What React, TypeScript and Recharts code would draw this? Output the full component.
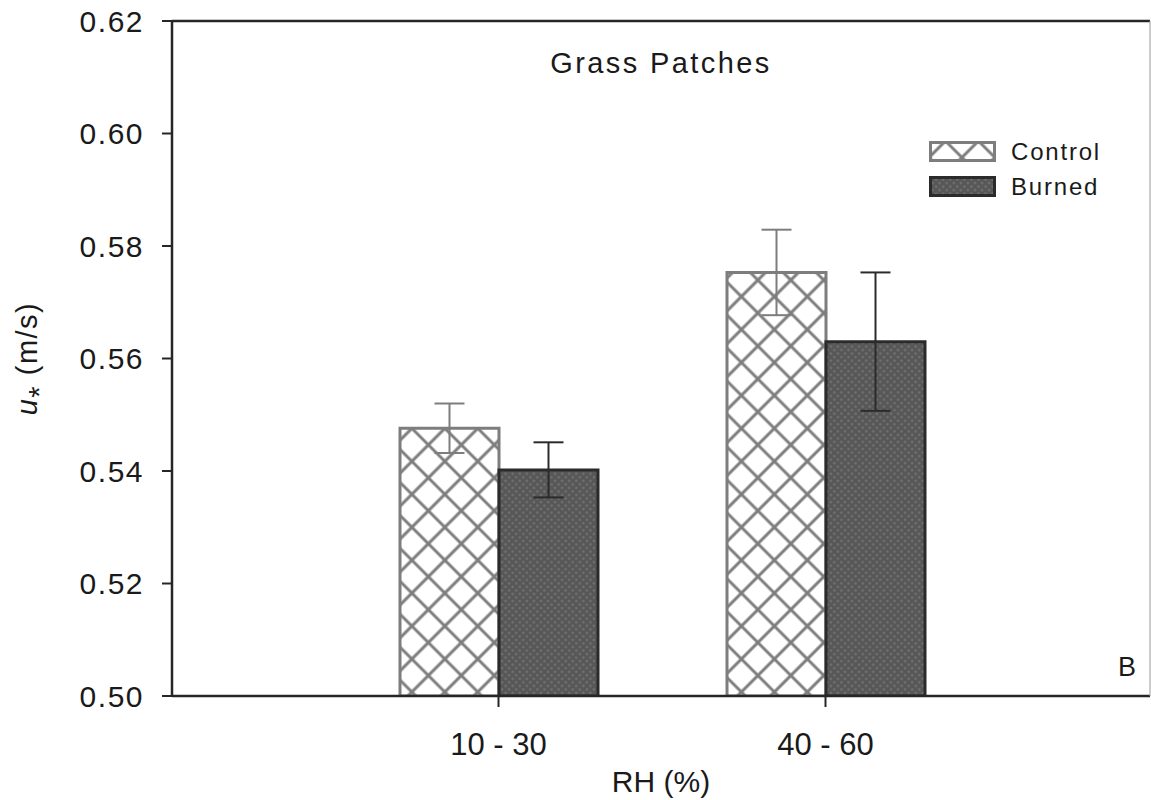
import React from 'react';
import { BarChart, Bar, XAxis, YAxis, ErrorBar, Legend } from 'recharts';

// friction velocity u* by relative humidity class, grass patches
const rhClasses = ['10 - 30', '40 - 60'];
const controlMeans = [0.5476, 0.5753];
const controlErrors = [0.0044, 0.0076];
const burnedMeans = [0.5402, 0.563];
const burnedErrors = [0.0049, 0.0123];
const yTicks = [0.5, 0.52, 0.54, 0.56, 0.58, 0.6, 0.62];

const data = rhClasses.map((rh, i) => ({
  rh,
  control: controlMeans[i],
  controlErr: controlErrors[i],
  burned: burnedMeans[i],
  burnedErr: burnedErrors[i],
}));

const FONT = '"Liberation Sans", Arial, Helvetica, sans-serif';
const INK = '#1a1a1a';
const AXIS = '#262626';
const CONTROL_LINE = '#7d7d7d';
const BURNED_LINE = '#2b2b2b';

const XTitle = (props: any) => {
  const vb = props.viewBox || { x: 172, y: 696, width: 978 };
  return (
    <text x={vb.x + vb.width / 2} y={792} textAnchor="middle" fontFamily={FONT} fontSize={30} fill={INK}>
      RH (%)
    </text>
  );
};

const YTitle = (props: any) => {
  const vb = props.viewBox || { y: 21, height: 675 };
  const cy = vb.y + vb.height / 2;
  const bx = 37;
  return (
    <text x={bx} y={cy} transform={`rotate(-90, ${bx}, ${cy})`} textAnchor="middle" fontFamily={FONT} fontSize={29} letterSpacing={1.5} fill={INK}>
      <tspan fontStyle="italic">u</tspan>
      <tspan dy="0.4em">*</tspan>
      <tspan dy="-0.4em"> (m/s)</tspan>
    </text>
  );
};

const PlotTitle = (props: any) => {
  const vb = props.viewBox || { x: 172, width: 978 };
  return (
    <text x={vb.x + vb.width / 2} y={73} textAnchor="middle" fontFamily={FONT} fontSize={29} letterSpacing={2.4} fill={INK}>
      Grass Patches
    </text>
  );
};

const PanelTag = (props: any) => {
  const vb = props.viewBox || { x: 1150, y: 21, height: 675 };
  return (
    <text x={vb.x - 32} y={vb.y + vb.height - 20} fontFamily={FONT} fontSize={27} fill={INK}>
      B
    </text>
  );
};

const LegendBox = () => {
  const rows = [
    { label: 'Control', fill: 'url(#hatchControl)', stroke: CONTROL_LINE },
    { label: 'Burned', fill: 'url(#dotsBurned)', stroke: BURNED_LINE },
  ];
  return (
    <div style={{ fontFamily: FONT, fontSize: 24, letterSpacing: 1.8, color: INK }}>
      {rows.map((r) => (
        <div key={r.label} style={{ display: 'flex', alignItems: 'center', height: 35 }}>
          <svg width={68} height={21} style={{ marginRight: 14 }}>
            <rect x={1.5} y={1.5} width={64} height={18} fill={r.fill} stroke={r.stroke} strokeWidth={3} />
          </svg>
          <span>{r.label}</span>
        </div>
      ))}
    </div>
  );
};

export default function App() {
  return (
    <div style={{ position: 'relative', width: 1151, height: 800, background: '#fff' }}>
      <style>{'body{margin:0}'}</style>
      <svg width={0} height={0} style={{ position: 'absolute' }}>
        <defs>
          <pattern id="hatchControl" patternUnits="userSpaceOnUse" width={23.3} height={23.3} patternTransform="rotate(45)">
            <rect width={23.3} height={23.3} fill="#fff" />
            <path d="M11.65 0V23.3M0 11.65H23.3" stroke={CONTROL_LINE} strokeWidth={3} />
          </pattern>
          <pattern id="dotsBurned" patternUnits="userSpaceOnUse" width={5} height={5} patternTransform="rotate(45)">
            <rect width={5} height={5} fill="#575757" />
            <circle cx={2.5} cy={2.5} r={1.2} fill="#747474" />
          </pattern>
        </defs>
      </svg>
      <BarChart
        width={1151}
        height={800}
        data={data}
        margin={{ top: 20, right: 0, left: 72, bottom: 24 }}
        barGap={0}
      >
        <XAxis
          dataKey="rh"
          height={80}
          padding={{ left: 163, right: 161 }}
          axisLine={{ stroke: AXIS, strokeWidth: 2.5 }}
          tickLine={{ stroke: AXIS, strokeWidth: 2 }}
          tickSize={11}
          tickMargin={26}
          tick={{ fontFamily: FONT, fontSize: 31, fill: INK }}
          label={<XTitle />}
        />
        <XAxis
          xAxisId="top"
          dataKey="rh"
          orientation="top"
          height={1}
          axisLine={{ stroke: AXIS, strokeWidth: 2.5 }}
          tick={false}
          tickLine={false}
          label={<PlotTitle />}
        />
        <YAxis
          width={100}
          domain={[0.5, 0.62]}
          ticks={yTicks}
          allowDataOverflow
          tickFormatter={(v: number) => v.toFixed(2)}
          axisLine={{ stroke: AXIS, strokeWidth: 2.5 }}
          tickLine={{ stroke: AXIS, strokeWidth: 2 }}
          tickSize={10}
          tickMargin={18}
          tick={{ fontFamily: FONT, fontSize: 30, letterSpacing: 1.5, fill: INK }}
          label={<YTitle />}
        />
        <YAxis
          yAxisId="right"
          orientation="right"
          width={1}
          domain={[0.5, 0.62]}
          ticks={yTicks}
          axisLine={{ stroke: '#9a9a9a', strokeWidth: 1 }}
          tick={false}
          tickLine={false}
          label={<PanelTag />}
        />
        <Legend
          layout="horizontal"
          verticalAlign="middle"
          align="center"
          content={<LegendBox />}
          wrapperStyle={{ left: 929, top: 134, width: 'auto' }}
        />
        <Bar dataKey="control" name="Control" fill="url(#hatchControl)" stroke={CONTROL_LINE} strokeWidth={3} barSize={99} isAnimationActive={false}>
          <ErrorBar dataKey="controlErr" width={15} stroke={CONTROL_LINE} strokeWidth={2} isAnimationActive={false} />
        </Bar>
        <Bar dataKey="burned" name="Burned" fill="url(#dotsBurned)" stroke={BURNED_LINE} strokeWidth={3} barSize={99} isAnimationActive={false}>
          <ErrorBar dataKey="burnedErr" width={15} stroke={BURNED_LINE} strokeWidth={2} isAnimationActive={false} />
        </Bar>
      </BarChart>
    </div>
  );
}
